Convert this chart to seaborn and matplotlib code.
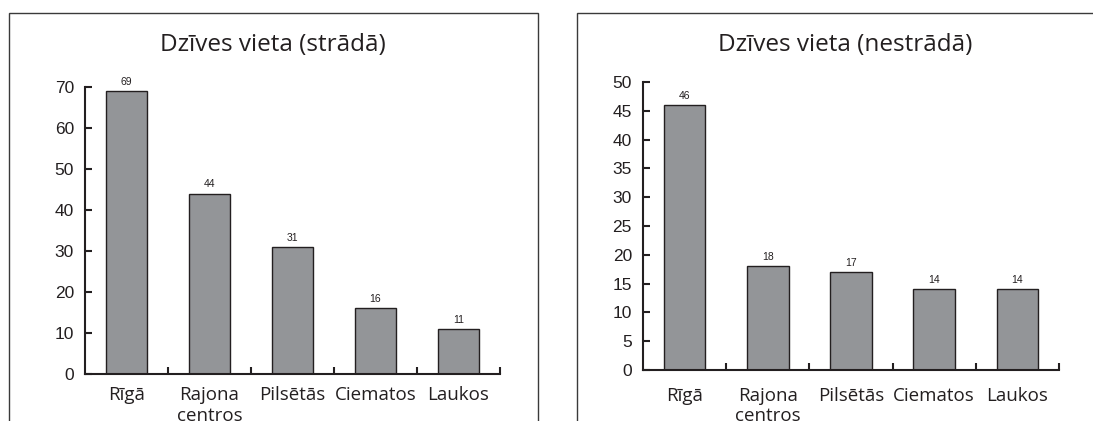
import matplotlib
matplotlib.use("Agg")
import matplotlib.pyplot as plt
import seaborn as sns
import pandas as pd
from matplotlib.patches import Rectangle

# Data
categories = ["Rīgā", "Rajona\ncentros", "Pilsētās", "Ciematos", "Laukos"]
working = [69, 44, 31, 16, 11]
not_working = [46, 18, 17, 14, 14]
titles = ["Dzīves vieta (strādā)", "Dzīves vieta (nestrādā)"]
y_max = [70, 50]
y_step = [10, 5]

sns.set_theme(style="white")
plt.rcParams["font.family"] = ["Liberation Sans", "DejaVu Sans"]

W, H = 1093, 421
DPI = 100
fig = plt.figure(figsize=(W / DPI, H / DPI), dpi=DPI)

BAR = "#939598"
INK = "#231f20"
TEXTFONT = ["Open Sans", "DejaVu Sans"]


def px_axes(x0, x1, y_top, y_bottom):
    return fig.add_axes([x0 / W, 1 - y_bottom / H, (x1 - x0) / W, (y_bottom - y_top) / H])


# Panel frames (open at the bottom, running past the figure edge)
for (x0, x1) in [(9, 538), (577, 1100)]:
    fig.add_artist(Rectangle((x0 / W, -0.1), (x1 - x0) / W, 1.1 - 13 / H,
                             transform=fig.transFigure, fill=False,
                             edgecolor="#3a3a3a", linewidth=1.0, clip_on=False))

panels = [
    dict(ax=px_axes(85, 500, 87, 374), vals=working, title_x=273, pad=9),
    dict(ax=px_axes(643, 1059, 82, 370), vals=not_working, title_x=845, pad=12),
]

for i, p in enumerate(panels):
    ax = p["ax"]
    df = pd.DataFrame({"cat": categories, "val": p["vals"]})
    sns.barplot(data=df, x="cat", y="val", color=BAR, edgecolor=INK,
                linewidth=1.0, width=0.5, saturation=1, ax=ax)
    for patch in ax.patches:
        patch.set_facecolor(BAR)
    ax.bar_label(ax.containers[0], labels=[str(v) for v in p["vals"]],
                 padding=3, fontsize=7.5, color=INK)

    ax.set_xlim(-0.5, len(categories) - 0.5)
    ax.set_ylim(0, y_max[i])
    ax.set_yticks(range(0, y_max[i] + 1, y_step[i]))
    ax.tick_params(axis="y", direction="in", length=5, width=1.5, color=INK,
                   labelsize=12.5, labelcolor=INK, pad=8, left=True)
    ax.set_xticks(range(len(categories)))
    ax.set_xticklabels(categories, fontfamily=TEXTFONT, fontsize=13.5,
                       linespacing=1.15, color=INK, va="top")
    ax.tick_params(axis="x", length=0, pad=p["pad"])
    ax.set_xticks([k + 0.5 for k in range(len(categories))], minor=True)
    ax.tick_params(axis="x", which="minor", direction="in", length=5,
                   width=1.5, color=INK, bottom=True)
    ax.set_xlabel("")
    ax.set_ylabel("")
    sns.despine(ax=ax)
    for s in ("left", "bottom"):
        ax.spines[s].set_color(INK)
        ax.spines[s].set_linewidth(1.5)
    ax.set_facecolor("none")

    fig.text(p["title_x"] / W, 1 - 45 / H, titles[i], ha="center", va="center",
             fontsize=17.5, fontfamily=TEXTFONT, color=INK)

fig.savefig("out.png", dpi=DPI, facecolor="white")
